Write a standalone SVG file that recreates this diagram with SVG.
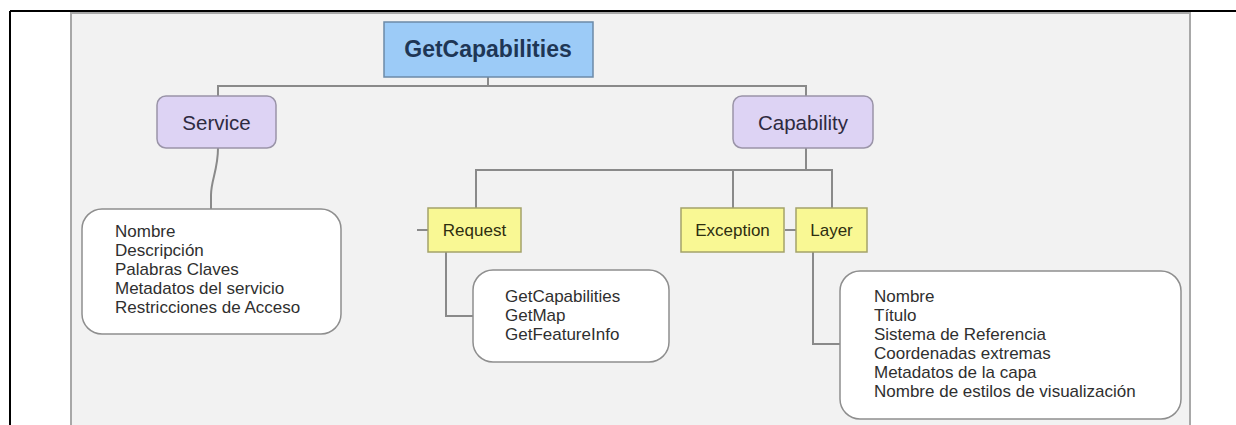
<svg xmlns="http://www.w3.org/2000/svg" width="1236" height="425" viewBox="0 0 1236 425">
<style>
.lbl{font-family:"Liberation Sans",Arial,sans-serif;}
.conn{fill:none;stroke:#8a8a8a;stroke-width:2;}
.purple rect{fill:#ddd3f4;stroke:#9a94a8;stroke-width:1.5;}
.purple text{font-size:20.5px;fill:#2e2a40;text-anchor:middle;}
.yellow rect{fill:#f9f894;stroke:#a4a36a;stroke-width:1.5;}
.yellow text{font-size:17px;fill:#2e2e10;text-anchor:middle;}
.list rect{fill:#ffffff;stroke:#8e8e8e;stroke-width:1.5;}
.list text{font-size:17px;fill:#2f2f2f;}
</style>
<rect x="0" y="0" width="1236" height="425" fill="#ffffff"/>
<rect x="71" y="13" width="1119" height="420" fill="#f2f2f2" stroke="#a8a8a8" stroke-width="2"/>
<line x1="10" y1="11" x2="1236" y2="11" stroke="#000" stroke-width="2"/>
<line x1="10" y1="11" x2="10" y2="425" stroke="#000" stroke-width="2"/>
<g id="connectors" class="conn">
<path d="M488 77 V86 M218 96 V86 H806 V96"/>
<path d="M218 148 C218 170 211 180 211 195 V209"/>
<path d="M806 148 V170 M476 208 V170 H832 V208 M733 170 V208"/>
<path d="M446 252 V316 H473"/>
<path d="M813 252 V344 H840"/>
<path d="M417 230 H428 M785 230 H796"/>
</g>
<g id="getcapabilities">
<rect x="384" y="22" width="209" height="55" fill="#9ccbf7" stroke="#6c8aa8" stroke-width="1.5"/>
<text class="lbl" x="488" y="57" font-size="23" font-weight="bold" fill="#1e3655" text-anchor="middle">GetCapabilities</text>
</g>
<g id="service" class="purple">
<rect x="157" y="96" width="119" height="52" rx="9"/>
<text class="lbl" x="216.5" y="130">Service</text>
</g>
<g id="capability" class="purple">
<rect x="733" y="96" width="140" height="52" rx="9"/>
<text class="lbl" x="803" y="130">Capability</text>
</g>
<g id="service-list" class="list">
<rect x="82" y="209" width="259" height="125" rx="20"/>
<text class="lbl" x="115" y="237">Nombre</text>
<text class="lbl" x="115" y="256">Descripción</text>
<text class="lbl" x="115" y="275">Palabras Claves</text>
<text class="lbl" x="115" y="294">Metadatos del servicio</text>
<text class="lbl" x="115" y="313">Restricciones de Acceso</text>
</g>
<g id="request" class="yellow">
<rect x="428" y="208" width="93" height="44"/>
<text class="lbl" x="474.5" y="236">Request</text>
</g>
<g id="exception" class="yellow">
<rect x="681" y="208" width="103" height="44"/>
<text class="lbl" x="732.5" y="236">Exception</text>
</g>
<g id="layer" class="yellow">
<rect x="796" y="208" width="71" height="44"/>
<text class="lbl" x="831.5" y="236">Layer</text>
</g>
<g id="request-list" class="list">
<rect x="473" y="270" width="196" height="92" rx="20"/>
<text class="lbl" x="505" y="302">GetCapabilities</text>
<text class="lbl" x="505" y="321">GetMap</text>
<text class="lbl" x="505" y="340">GetFeatureInfo</text>
</g>
<g id="layer-list" class="list">
<rect x="840" y="271" width="341" height="148" rx="20"/>
<text class="lbl" x="874" y="302">Nombre</text>
<text class="lbl" x="874" y="321">Título</text>
<text class="lbl" x="874" y="340">Sistema de Referencia</text>
<text class="lbl" x="874" y="359">Coordenadas extremas</text>
<text class="lbl" x="874" y="378">Metadatos de la capa</text>
<text class="lbl" x="874" y="397">Nombre de estilos de visualización</text>
</g>
</svg>
